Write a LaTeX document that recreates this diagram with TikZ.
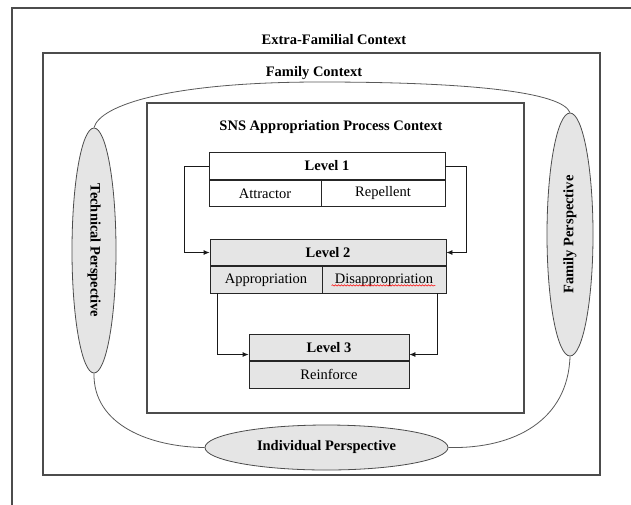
\documentclass[tikz,border=0pt]{standalone}
\usepackage{fontspec}
\setmainfont{Liberation Serif}
\usetikzlibrary{calc,shapes.geometric,arrows.meta,decorations.pathmorphing}

\begin{document}
\begin{tikzpicture}[x=1pt,y=-1pt,
  frame/.style={draw=black!70, line width=1.2pt},
  cell/.style={draw=black!85, line width=0.8pt, inner sep=0pt, minimum height=26.5pt, font=\fontsize{14.5}{17}\selectfont},
  title/.style={cell, font=\fontsize{14.5}{17}\selectfont\bfseries},
  persp/.style={ellipse, draw=black!70, fill=black!10, line width=0.8pt, inner sep=0pt, font=\fontsize{14.5}{17}\selectfont\bfseries},
  lbl/.style={font=\fontsize{14.5}{17}\selectfont\bfseries},
  link/.style={draw=black!65, line width=0.8pt},
  conn/.style={draw=black!90, line width=0.8pt, -{Latex[length=6pt,width=5pt]}}]
\useasboundingbox (0,0) rectangle (631,504);
\clip (0,0) rectangle (631,504);

%% nested contexts
\draw[frame] (12,8) rectangle (640,520);
\node[lbl] (extra) at (334,40) {Extra-Familial Context};
\draw[frame] (43,53) rectangle (600,475);
\node[lbl] (family) at (314,73) {Family Context};
\draw[frame] (147,103) rectangle (524,413);
\node[lbl] (sns) at (331,127) {SNS Appropriation Process Context};

%% levels
\node[title, minimum width=236pt] (l1) at (327,166) {Level 1};
\node[cell, minimum width=112pt, anchor=north west] (attr) at (l1.south west) {Attractor};
\node[cell, minimum width=124pt, anchor=north east] (rep) at (l1.south east) {Repellent};

\node[title, fill=black!10, minimum width=236pt] (l2) at (328,252.5) {Level 2};
\node[cell, fill=black!10, minimum width=112pt, anchor=north west] (appr) at (l2.south west) {Appropriation};
\node[cell, fill=black!10, minimum width=124pt, anchor=north east] (disappr) at (l2.south east) {Disappropriation};
% spell check squiggle
\draw[red, line width=0.5pt, decorate, decoration={snake, amplitude=0.7pt, segment length=3pt}]
  ($(disappr.south west)+(10,-8)$) -- ($(disappr.south east)+(-11,-8)$);

\node[title, fill=black!10, minimum width=160pt] (l3) at (329,347.5) {Level 3};
\node[cell, fill=black!10, minimum width=160pt, anchor=north] (reinf) at (l3.south) {Reinforce};

\draw[conn] (l1.west) -- ++(-24,0) |- (l2.west);
\draw[conn] (l1.east) -- ++(21,0) |- (l2.east);
\draw[conn] ([xshift=8pt]appr.south west) |- ([yshift=-7pt]l3.west);
\draw[conn] ([xshift=-9pt]disappr.south east) |- ([yshift=-7pt]l3.east);

%% perspectives
\node[persp, minimum width=44pt, minimum height=245pt] (tech) at (94,250.5) {\rotatebox{-90}{Technical Perspective}};
\node[persp, minimum width=46pt, minimum height=243pt] (famp) at (570,234.5) {\rotatebox{90}{Family Perspective}};
\node[persp, minimum width=243pt, minimum height=45pt] (indiv) at (326.5,447.5) {Individual Perspective};

\draw[link] (tech.north) .. controls (100,105) and (170,82) .. (320,82)
  .. controls (470,82) and (562,92) .. (famp.north);
\draw[link] (tech.south) .. controls (93,425) and (150,447) .. (indiv.west);
\draw[link] (famp.south) .. controls (568,420) and (515,449) .. (indiv.east);

\end{tikzpicture}
\end{document}
